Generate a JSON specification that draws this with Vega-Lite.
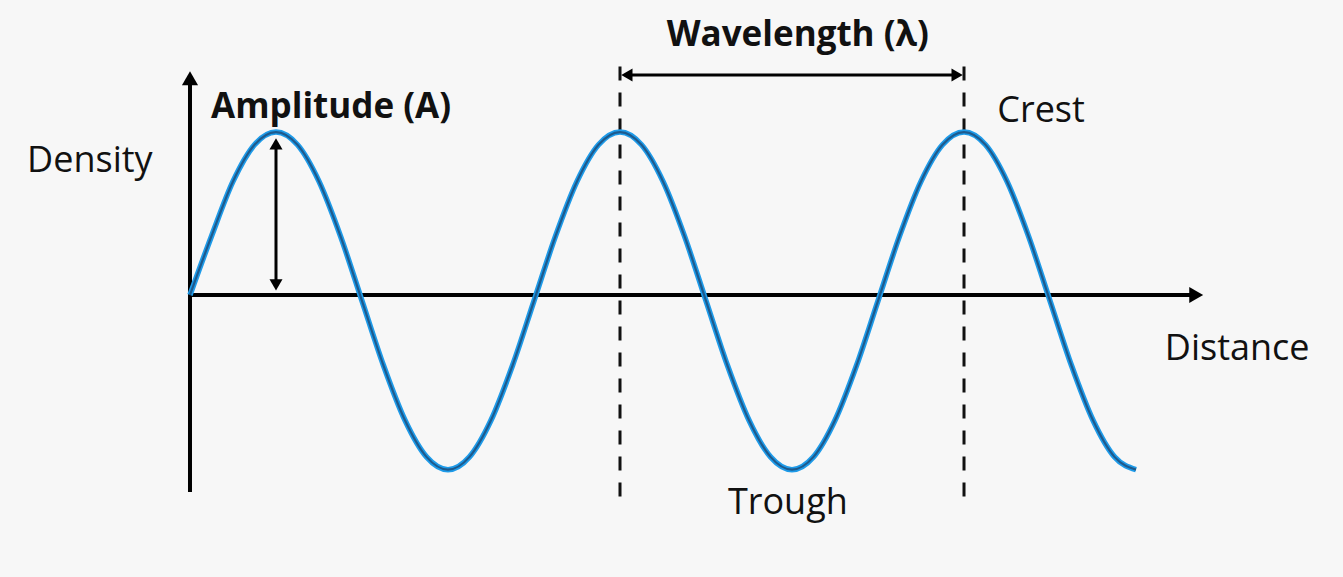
{
  "$schema": "https://vega.github.io/schema/vega-lite/v6.json",
  "width": 1343,
  "height": 577,
  "autosize": {"type": "fit", "contains": "padding"},
  "padding": 0,
  "background": "#f7f7f7",
  "config": {"view": {"stroke": null}},
  "datasets": {
    "wave": [
      {"d": 0, "density": 0.0}, {"d": 0.0625, "density": 0.35}, {"d": 0.125, "density": 0.676}, {"d": 0.1875, "density": 0.894},
      {"d": 0.25, "density": 0.97}, {"d": 0.3125, "density": 0.894}, {"d": 0.375, "density": 0.676}, {"d": 0.4375, "density": 0.35},
      {"d": 0.5, "density": -0.035}, {"d": 0.5625, "density": -0.42}, {"d": 0.625, "density": -0.746}, {"d": 0.6875, "density": -0.964},
      {"d": 0.75, "density": -1.04}, {"d": 0.8125, "density": -0.964}, {"d": 0.875, "density": -0.746}, {"d": 0.9375, "density": -0.42},
      {"d": 1, "density": -0.035}, {"d": 1.0625, "density": 0.35}, {"d": 1.125, "density": 0.676}, {"d": 1.1875, "density": 0.894},
      {"d": 1.25, "density": 0.97}, {"d": 1.3125, "density": 0.894}, {"d": 1.375, "density": 0.676}, {"d": 1.4375, "density": 0.35},
      {"d": 1.5, "density": -0.035}, {"d": 1.5625, "density": -0.42}, {"d": 1.625, "density": -0.746}, {"d": 1.6875, "density": -0.964},
      {"d": 1.75, "density": -1.04}, {"d": 1.8125, "density": -0.964}, {"d": 1.875, "density": -0.746}, {"d": 1.9375, "density": -0.42},
      {"d": 2, "density": -0.035}, {"d": 2.0625, "density": 0.35}, {"d": 2.125, "density": 0.676}, {"d": 2.1875, "density": 0.894},
      {"d": 2.25, "density": 0.97}, {"d": 2.3125, "density": 0.894}, {"d": 2.375, "density": 0.676}, {"d": 2.4375, "density": 0.35},
      {"d": 2.5, "density": -0.035}, {"d": 2.5625, "density": -0.42}, {"d": 2.625, "density": -0.746}, {"d": 2.6875, "density": -0.964},
      {"d": 2.75, "density": -1.04}
    ],
    "axes": [
      {"x": 0, "y": -1.173, "x2": 0, "y2": 1.28},
      {"x": 0, "y": 0, "x2": 2.91, "y2": 0}
    ],
    "arrows": [
      {"x": 0.25, "y": 0.07, "x2": 0.25, "y2": 0.9},
      {"x": 1.27, "y": 1.31, "x2": 2.23, "y2": 1.31}
    ],
    "dashes": [
      {"x": 1.25, "y": -1.2, "x2": 1.25, "y2": 1.43},
      {"x": 2.25, "y": -1.2, "x2": 2.25, "y2": 1.43}
    ],
    "bigheads": [
      {"x": 0, "y": 1.29, "shape": "triangle-up"},
      {"x": 2.925, "y": 0, "shape": "triangle-right"}
    ],
    "smallheads": [
      {"x": 0.25, "y": 0.9, "shape": "triangle-up"},
      {"x": 0.25, "y": 0.06, "shape": "triangle-down"},
      {"x": 1.27, "y": 1.31, "shape": "triangle-left"},
      {"x": 2.23, "y": 1.31, "shape": "triangle-right"}
    ],
    "boldlabels": [
      {"x": 1.767, "y": 1.545, "label": "Wavelength (λ)"},
      {"x": 0.41, "y": 1.12, "label": "Amplitude (A)"}
    ],
    "labels": [
      {"x": -0.291, "y": 0.8, "label": "Density"},
      {"x": 2.474, "y": 1.095, "label": "Crest"},
      {"x": 3.044, "y": -0.32, "label": "Distance"},
      {"x": 1.738, "y": -1.24, "label": "Trough"}
    ]
  },
  "layer": [
    {
      "data": {"name": "dashes"},
      "mark": {"type": "rule", "color": "#111111", "strokeWidth": 3, "strokeDash": [14, 12]},
      "encoding": {
        "x": {"field": "x", "type": "quantitative", "scale": {"domain": [-0.5523, 3.3517], "nice": false, "zero": false}, "axis": null},
        "y": {"field": "y", "type": "quantitative", "scale": {"domain": [-1.679, 1.756], "nice": false, "zero": false}, "axis": null},
        "x2": {"field": "x2"},
        "y2": {"field": "y2"}
      }
    },
    {
      "data": {"name": "axes"},
      "mark": {"type": "rule", "color": "#000000", "strokeWidth": 4},
      "encoding": {
        "x": {"field": "x", "type": "quantitative", "axis": null},
        "y": {"field": "y", "type": "quantitative", "axis": null},
        "x2": {"field": "x2"},
        "y2": {"field": "y2"}
      }
    },
    {
      "data": {"name": "wave"},
      "mark": {"type": "line", "interpolate": "monotone", "color": "#1e9be9", "strokeWidth": 5.5},
      "encoding": {
        "x": {"field": "d", "type": "quantitative", "axis": null},
        "y": {"field": "density", "type": "quantitative", "axis": null}
      }
    },
    {
      "data": {"name": "wave"},
      "mark": {"type": "line", "interpolate": "monotone", "color": "#1f4f7c", "strokeWidth": 2.2, "opacity": 0.85},
      "encoding": {
        "x": {"field": "d", "type": "quantitative", "axis": null},
        "y": {"field": "density", "type": "quantitative", "axis": null}
      }
    },
    {
      "data": {"name": "arrows"},
      "mark": {"type": "rule", "color": "#000000", "strokeWidth": 3},
      "encoding": {
        "x": {"field": "x", "type": "quantitative", "axis": null},
        "y": {"field": "y", "type": "quantitative", "axis": null},
        "x2": {"field": "x2"},
        "y2": {"field": "y2"}
      }
    },
    {
      "data": {"name": "bigheads"},
      "mark": {"type": "point", "filled": true, "color": "#000000", "size": 260, "opacity": 1},
      "encoding": {
        "x": {"field": "x", "type": "quantitative", "axis": null},
        "y": {"field": "y", "type": "quantitative", "axis": null},
        "shape": {"field": "shape", "type": "nominal", "scale": null, "legend": null}
      }
    },
    {
      "data": {"name": "smallheads"},
      "mark": {"type": "point", "filled": true, "color": "#000000", "size": 170, "opacity": 1},
      "encoding": {
        "x": {"field": "x", "type": "quantitative", "axis": null},
        "y": {"field": "y", "type": "quantitative", "axis": null},
        "shape": {"field": "shape", "type": "nominal", "scale": null, "legend": null}
      }
    },
    {
      "data": {"name": "boldlabels"},
      "mark": {"type": "text", "font": "Open Sans", "fontSize": 35, "fontWeight": "bold", "color": "#111111", "baseline": "middle", "align": "center"},
      "encoding": {
        "x": {"field": "x", "type": "quantitative", "axis": null},
        "y": {"field": "y", "type": "quantitative", "axis": null},
        "text": {"field": "label"}
      }
    },
    {
      "data": {"name": "labels"},
      "mark": {"type": "text", "font": "Open Sans", "fontSize": 36, "color": "#111111", "baseline": "middle", "align": "center"},
      "encoding": {
        "x": {"field": "x", "type": "quantitative", "axis": null},
        "y": {"field": "y", "type": "quantitative", "axis": null},
        "text": {"field": "label"}
      }
    }
  ]
}
